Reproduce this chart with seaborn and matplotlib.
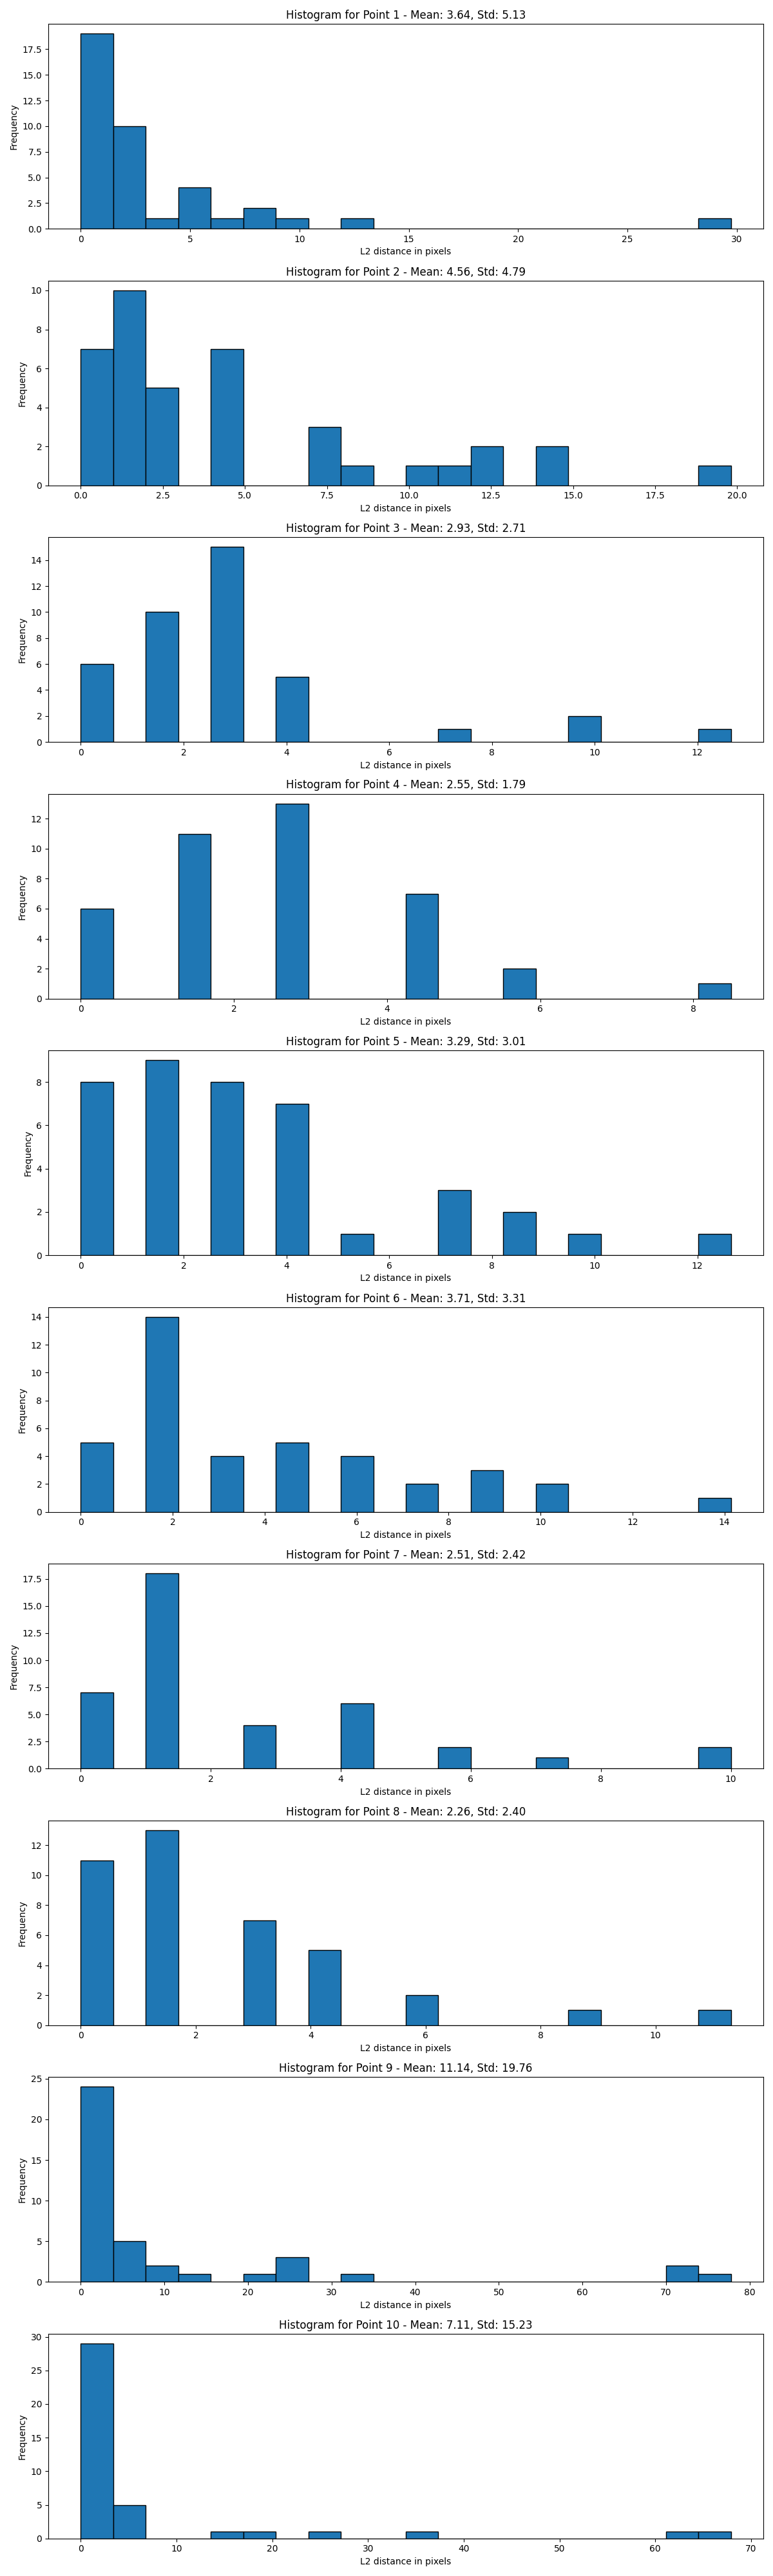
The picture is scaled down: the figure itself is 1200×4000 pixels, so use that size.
import matplotlib
matplotlib.use("Agg")
import matplotlib.pyplot as plt
import seaborn as sns

# L2 distances (pixels) for each keypoint
point_1 = [0] * 9 + [1] * 7 + [1.41] * 3 + [2] * 4 + [2.24] * 4 + [2.83] * 2 + \
    [3.61, 5, 5.1, 5.39, 5.83, 6.71, 7.81, 8.6, 9.49, 12.53, 29.73]
point_2 = [0] * 7 + [1] * 6 + [1.41] * 4 + [2] * 2 + [2.24] * 2 + [2.83] + \
    [4.12] * 3 + [4.24] * 2 + [4.47] * 2 + \
    [7.07, 7.28, 7.62, 8.49, 10.3, 11.4, 12.17, 12.65, 14.14, 14.42, 19.81]
point_3 = [0] * 6 + [1.41] * 10 + [2.83] * 8 + [3] * 7 + [4] * 3 + [4.12] * 2 + \
    [7.07, 9.85, 10, 12.65]
point_4 = [0] * 6 + [1.41] * 11 + [2.83] * 13 + [4.47] * 7 + [5.66, 5.83, 8.49]
point_5 = [0] * 8 + [1.41] * 9 + [2.83] * 4 + [3] * 4 + [4] * 4 + [4.12] * 3 + \
    [5.39, 7.07, 7.21, 7.28, 8.49, 8.6, 10, 12.65]
point_6 = [0] * 5 + [2] * 14 + [3] * 2 + [3.16] * 2 + [4.47] * 5 + [6] * 2 + [6.08] * 2 + \
    [7.28] * 2 + [8.94] * 2 + [9.06, 10, 10.3, 14.14]
point_7 = [0] * 7 + [1] * 10 + [1.41] * 8 + [2.83] * 4 + [4.12] * 3 + [4.24] * 3 + \
    [5.66] * 2 + [7.07, 9.85, 10]
point_8 = [0] * 11 + [1.41] * 13 + [3] * 4 + [3.16] * 3 + [4.12] * 3 + [4.24] * 2 + \
    [6, 6.08, 8.94, 11.31]
point_9 = [0] * 5 + [1] * 7 + [1.41] * 5 + [2] * 3 + [2.24] * 2 + [3] * 2 + \
    [4.12, 5, 5.39, 6.4, 7.07, 8.94, 10.2, 13.6, 21.2, 24.1, 25.3, 26.4, 32.5,
     71.2, 72.6, 77.76]
point_10 = [0] * 8 + [1] * 9 + [1.41] * 6 + [2] * 3 + [2.24] * 3 + \
    [3.61, 4.12, 4.47, 5, 5.83, 15.2, 18.4, 25.5, 35.8, 62.6, 67.9]

distances = [point_1, point_2, point_3, point_4, point_5,
             point_6, point_7, point_8, point_9, point_10]

# stats as printed in the titles
means = [3.64, 4.56, 2.93, 2.55, 3.29, 3.71, 2.51, 2.26, 11.14, 7.11]
stds = [5.13, 4.79, 2.71, 1.79, 3.01, 3.31, 2.42, 2.40, 19.76, 15.23]

fig, axes = plt.subplots(len(distances), 1, figsize=(12, 40))

for i, ax in enumerate(axes):
    sns.histplot(x=distances[i], bins=20, ax=ax, color="#1f77b4",
                 edgecolor="black", linewidth=1, alpha=1)
    ax.set_title(f"Histogram for Point {i + 1} - Mean: {means[i]:.2f}, Std: {stds[i]:.2f}")
    ax.set_xlabel("L2 distance in pixels")
    ax.set_ylabel("Frequency")

plt.tight_layout()
plt.savefig("out.png", dpi=100)
